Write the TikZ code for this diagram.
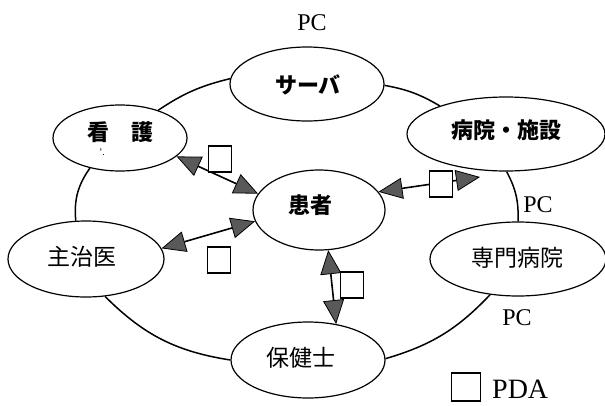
\documentclass[tikz,border=0pt]{standalone}
\usepackage{fontspec}
\setmainfont{Liberation Serif}
\newfontfamily\jp{Noto Sans CJK JP}
\usetikzlibrary{shapes.geometric,arrows.meta}
\tikzset{
  oval/.style={ellipse, draw, line width=1.2pt, fill=white, inner sep=0pt},
  ring/.style={line width=1.5pt},
  link/.style={line width=1.6pt,
    {Triangle[length=24pt,width=21pt,fill=black!65,line width=0.8pt]}-{Triangle[length=24pt,width=21pt,fill=black!65,line width=0.8pt]}},
  pdabox/.style={draw, fill=white, line width=1.2pt, minimum width=23pt, minimum height=26pt, inner sep=0pt},
  lbl/.style={font=\fontsize{24}{24}\selectfont, inner sep=0pt},
  jpb/.style={font=\jp\bfseries\fontsize{22}{22}\selectfont, inner sep=0pt},
  jpr/.style={font=\jp\fontsize{23}{23}\selectfont, inner sep=0pt}
}
\begin{document}
\begin{tikzpicture}[x=1pt,y=-1pt]
\useasboundingbox (0,0) rectangle (605,405);
% nodes
\node[oval, minimum width=154pt, minimum height=74pt] (server) at (307,84) {};
\node[oval, minimum width=134pt, minimum height=66pt] (kango) at (120,138) {};
\node[oval, minimum width=198pt, minimum height=74pt] (byoin) at (506,134) {};
\node[oval, minimum width=132pt, minimum height=80pt] (kanja) at (319,210) {};
\node[oval, minimum width=156pt, minimum height=76pt] (shuji) at (86,259) {};
\node[oval, minimum width=176pt, minimum height=74pt] (senmon) at (518,259) {};
\node[oval, minimum width=154pt, minimum height=76pt] (hoken) at (308,360) {};
% texts
\node[jpb] (serverT) at (308,85) {サーバ};
\node[jpb] (kangoT) at (120,132) {看　護};
\node[font=\fontsize{10}{10}\selectfont, inner sep=0pt] (kangoM) at (102,152) {'.};
\node[jpb] (byoinT) at (506,130) {病院・施設};
\node[jpb] (kanjaT) at (310,205) {患者};
\node[jpr] (shujiT) at (82,257) {主治医};
\node[jpr] (senmonT) at (517,258) {専門病院};
\node[jpr] (hokenT) at (301,358) {保健士};
\node[lbl] (pc1) at (312,23) {PC};
\node[lbl] (pc2) at (538,205) {PC};
\node[lbl] (pc3) at (517,318) {PC};
% ring
\draw[ring] (kango.36) to[bend left=10] (server.176);
\draw[ring] (server.-1) to[bend left=10] (byoin.157);
\draw[ring] (byoin.-89) to[bend left=15] (senmon.90);
\draw[ring] (senmon.232) to[bend left=15] (hoken.1.5);
\draw[ring] (hoken.180) to[bend left=18] (shuji.-63);
\draw[ring] (shuji.105) to[bend left=20] (kango.225);
% arrows
\coordinate (byoinTip) at (480,177);
\draw[link] (kango.-18) -- (kanja.165);
\draw[link] (shuji.8.6) -- (kanja.190);
\draw[link] (kanja.283) -- (hoken.52);
\draw[link] (kanja.17) -- (byoinTip);
% PDA boxes
\node[pdabox] (p1) at (220,159) {};
\node[pdabox] (p2) at (219,260) {};
\node[pdabox] (p3) at (352,285) {};
\node[pdabox] (p4) at (441,184) {};
\node[pdabox, minimum width=29pt, minimum height=28pt] (pleg) at (466,387) {};
\node[lbl, font=\fontsize{28}{28}\selectfont, anchor=west] (pdaT) at (492,389) {PDA};
\end{tikzpicture}
\end{document}
